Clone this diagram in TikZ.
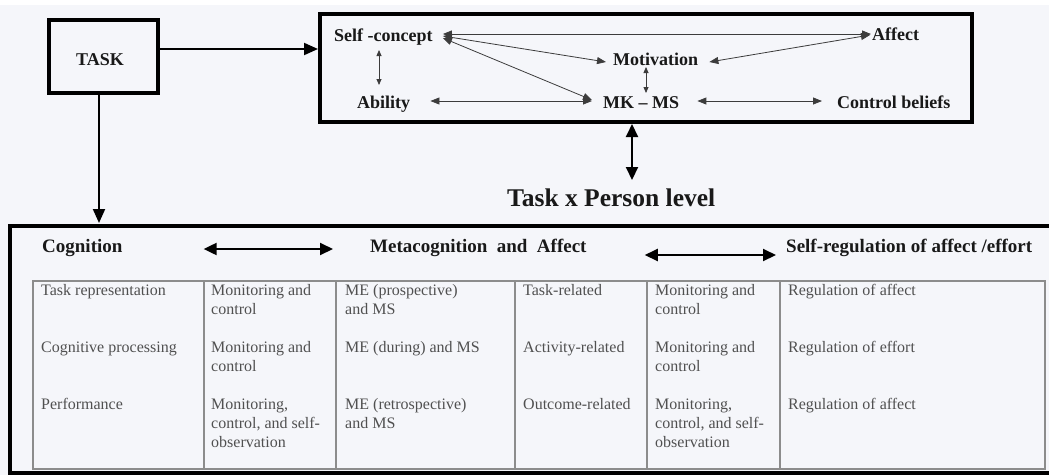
\documentclass[tikz,border=0pt]{standalone}
\usepackage{fontspec}
\setmainfont{Liberation Serif}
\usetikzlibrary{arrows.meta,calc}
\definecolor{bgc}{RGB}{245,246,250}
\definecolor{txtgray}{RGB}{80,80,80}
\definecolor{gridgray}{RGB}{140,140,140}
\definecolor{thinline}{RGB}{60,60,60}
\newcommand{\mlines}[1]{\begin{tabular}[t]{@{}l@{}}#1\end{tabular}}
\begin{document}
\begin{tikzpicture}[x=1pt,y=-1pt,
  lbl/.style={inner sep=0pt,anchor=base west,font=\fontsize{18}{20}\selectfont\bfseries,text=black!90},
  hdr/.style={inner sep=0pt,anchor=base west,font=\fontsize{19}{21}\selectfont\bfseries,text=black!90},
  cell/.style={inner sep=0pt,anchor=base west,font=\fontsize{16}{19}\selectfont,text=txtgray},
  bigbox/.style={draw=black,line width=4pt},
  thinarr/.style={draw=thinline,line width=0.8pt,{Triangle[length=9pt,width=7pt]}-{Triangle[length=9pt,width=7pt]}},
  smallarr/.style={draw=thinline,line width=0.8pt,{Triangle[length=6pt,width=5pt]}-{Triangle[length=6pt,width=5pt]}},
  fatarr/.style={draw=black,line width=2pt,-{Triangle[length=14pt,width=12pt]}},
  fatdbl/.style={draw=black,line width=2pt,{Triangle[length=13pt,width=12pt]}-{Triangle[length=13pt,width=12pt]}},
  gridline/.style={draw=gridgray,line width=1.1pt}
]
\clip (0,0) rectangle (1049,475);
\fill[bgc] (0,0) rectangle (1049,475);
\fill[white] (0,0) rectangle (1049,5);

% TASK box
\draw[bigbox] (49,20) rectangle (158,93);
\node[lbl] (task) at (76,65) {TASK};
\coordinate (taskR) at (158,49);
\coordinate (taskB) at (99,93);

% top box
\draw[bigbox] (320,14) rectangle (972,122);
\coordinate (topL) at (318,49);
\coordinate (topB) at (632,124);

\node[lbl] (sc)  at (334,41) {Self -concept};
\node[lbl] (mot) at (613,65) {Motivation};
\node[lbl] (ab)  at (357,108) {Ability};
\node[lbl] (mk)  at (603,108) {MK – MS};
\node[lbl] (aff) at (872,40) {Affect};
\node[lbl] (cb)  at (837,108) {Control beliefs};

\draw[thinarr] ($(sc.base east)+(10,-7)$) -- ($(aff.base west)+(-1,-6)$);
\draw[thinarr] ($(sc.base east)+(10,-5)$) -- ($(mot.base west)+(-7,-3)$);
\draw[thinarr] ($(sc.base east)+(10,-3)$) -- ($(mk.base west)+(-11,-8)$);
\draw[thinarr] ($(ab.base east)+(20,-7)$) -- ($(mk.base west)+(-11,-7)$);
\draw[smallarr] ($(sc.base west)+(45,9)$) -- ($(ab.base west)+(22,-23)$);
\draw[smallarr] ($(mot.base west)+(33,2)$) -- ($(mk.base west)+(43,-15)$);
\draw[thinarr] ($(aff.base west)+(-2,-5)$) -- ($(mot.base east)+(11,-3)$);
\draw[thinarr] ($(mk.base east)+(18,-7)$) -- ($(cb.base west)+(-15,-7)$);

% Task x Person level
\node[inner sep=0pt,anchor=base west,font=\fontsize{25.5}{28}\selectfont\bfseries,text=black!90] (tp) at (507,206) {Task x Person level};
\draw[fatdbl] (topB) -- ($(tp.base west)+(125,-26)$);

% arrows from TASK
\draw[fatarr] (taskR) -- (topL);
\coordinate (botT) at (99,223);
\draw[fatarr] (taskB) -- (botT);

% bottom box
\draw[draw=black,line width=3.5pt] (10,226) rectangle (1070,473);

\node[hdr] (cog) at (42,252) {Cognition};
\node[hdr] (meta) at (370,252) {Metacognition~ and~ Affect};
\node[hdr] (selfreg) at (786,252) {Self-regulation of affect /effort};
\draw[fatdbl] ($(cog.base east)+(81,-3)$) -- ($(meta.base west)+(-37,-3)$);
\draw[fatdbl] ($(meta.base east)+(58,3)$) -- ($(selfreg.base west)+(-10,3)$);

% table grid
\draw[gridline] (33,281) rectangle (1045,469);
\foreach \xx in {204,336,515,647,780} \draw[gridline] (\xx,281) -- (\xx,469);

% column 1
\node[cell] (c11) at (41,295) {Task representation};
\node[cell] (c12) at (41,352) {Cognitive processing};
\node[cell] (c13) at (41,409) {Performance};
% column 2
\node[cell] (c21) at (211,295) {\mlines{Monitoring and\\control}};
\node[cell] (c22) at (211,352) {\mlines{Monitoring and\\control}};
\node[cell] (c23) at (211,409) {\mlines{Monitoring,\\control, and self-\\observation}};
% column 3
\node[cell] (c31) at (345,295) {\mlines{ME (prospective)\\and MS}};
\node[cell] (c32) at (345,352) {ME (during) and MS};
\node[cell] (c33) at (345,409) {\mlines{ME (retrospective)\\and MS}};
% column 4
\node[cell] (c41) at (523,295) {Task-related};
\node[cell] (c42) at (523,352) {Activity-related};
\node[cell] (c43) at (523,409) {Outcome-related};
% column 5
\node[cell] (c51) at (655,295) {\mlines{Monitoring and\\control}};
\node[cell] (c52) at (655,352) {\mlines{Monitoring and\\control}};
\node[cell] (c53) at (655,409) {\mlines{Monitoring,\\control, and self-\\observation}};
% column 6
\node[cell] (c61) at (788,295) {Regulation of affect};
\node[cell] (c62) at (788,352) {Regulation of effort};
\node[cell] (c63) at (788,409) {Regulation of affect};
\end{tikzpicture}
\end{document}
